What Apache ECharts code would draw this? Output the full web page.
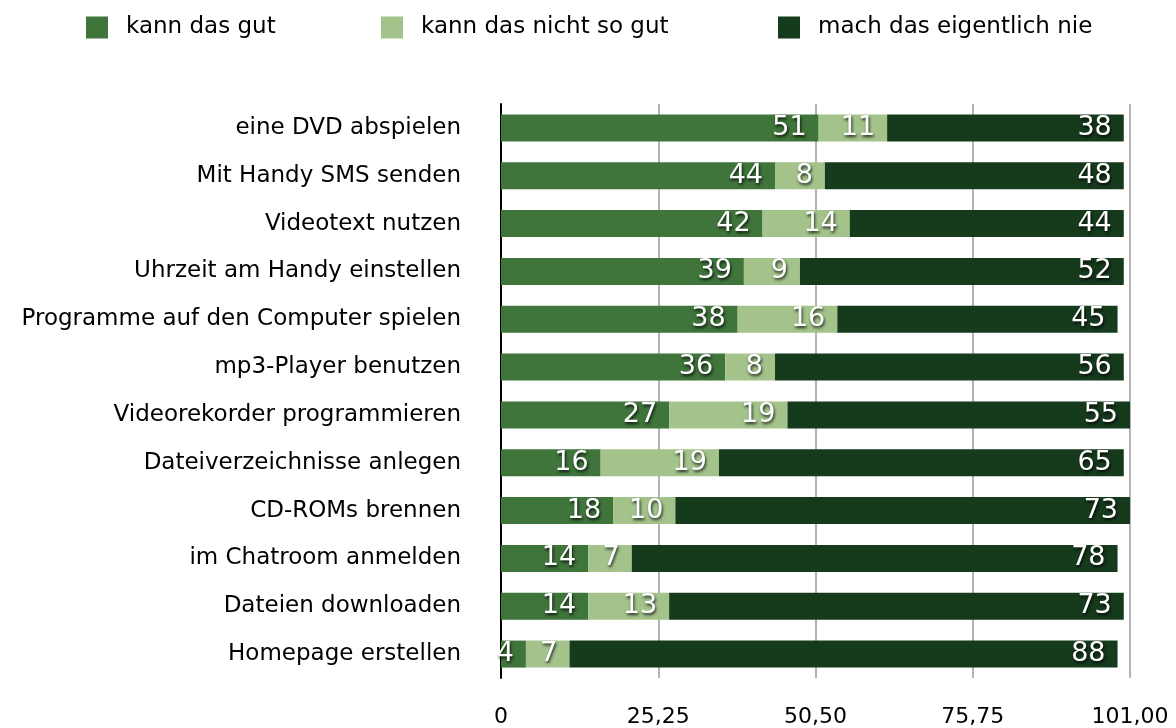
<!DOCTYPE html>
<html><head><meta charset="utf-8">
<script src="https://cdn.jsdelivr.net/npm/echarts@6/dist/echarts.min.js"></script>
<style>html,body{margin:0;padding:0;background:#fff}#c{width:1176px;height:728px}</style>
</head><body><div id="c"></div>
<script>
const categories = ["eine DVD abspielen","Mit Handy SMS senden","Videotext nutzen","Uhrzeit am Handy einstellen","Programme auf den Computer spielen","mp3-Player benutzen","Videorekorder programmieren","Dateiverzeichnisse anlegen","CD-ROMs brennen","im Chatroom anmelden","Dateien downloaden","Homepage erstellen"];
const seriesNames = ["kann das gut","kann das nicht so gut","mach das eigentlich nie"];
const gut = [51,44,42,39,38,36,27,16,18,14,14,4];
const nichtSoGut = [11,8,14,9,16,8,19,19,10,7,13,7];
const nie = [38,48,44,52,45,56,55,65,73,78,73,88];
const tickLabels = ["0","25,25","50,50","75,75","101,00"];
const colors = ["#3f743b","#a3c38b","#163a1c"];

const chart = echarts.init(document.getElementById('c'));
const font = "DejaVu Sans, Liberation Sans, Arial, sans-serif";
const label = {
  show:true, position:'insideRight', color:'#fff', fontSize:27, fontFamily:font,
  textShadowColor:'rgba(0,0,0,0.8)', textShadowBlur:3, textShadowOffsetX:1, textShadowOffsetY:2,
  distance:12
};
function mk(name, data, i){
  return {name, type:'bar', stack:'s', data, barWidth:27, itemStyle:{color:colors[i]}, label, animation:false};
}
const legendLefts = [86, 381, 778];
chart.setOption({
  animation:false,
  legend: seriesNames.map((n,i)=>({
    top:16, left:legendLefts[i], padding:0, itemWidth:22, itemHeight:22, icon:'rect',
    textStyle:{fontSize:23, fontFamily:font, color:'#000', padding:[0,0,0,13]},
    data:[n]
  })),
  grid:{left:501, right:46, top:104, bottom:48, containLabel:false},
  xAxis:{
    type:'value', min:0, max:101, interval:25.25,
    axisLine:{show:false}, axisTick:{show:false},
    splitLine:{show:true, lineStyle:{color:'#b3b3b3', width:2}},
    axisLabel:{margin:28, fontSize:22, fontFamily:font, color:'#000',
      formatter:(v,i)=>tickLabels[i] !== undefined ? tickLabels[i] : v}
  },
  yAxis:{
    type:'category', data:categories, inverse:true,
    axisLine:{show:true, lineStyle:{color:'#000', width:2}},
    axisTick:{show:false},
    axisLabel:{margin:40, fontSize:23, fontFamily:font, color:'#000'}
  },
  series:[mk(seriesNames[0],gut,0), mk(seriesNames[1],nichtSoGut,1), mk(seriesNames[2],nie,2)]
});
</script></body></html>
